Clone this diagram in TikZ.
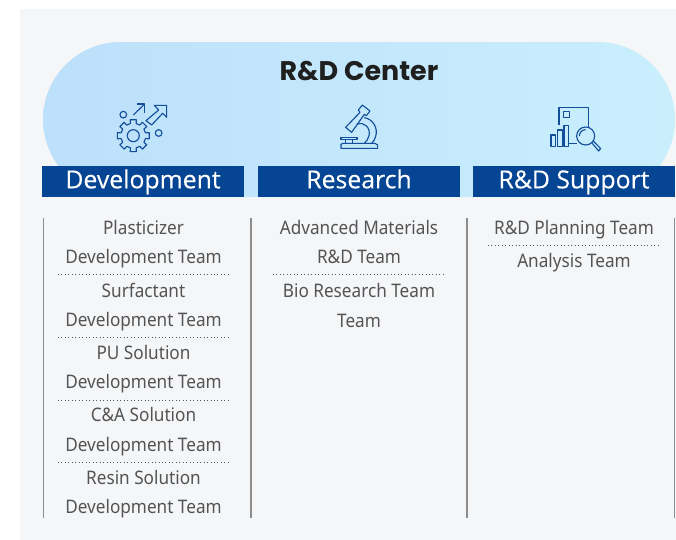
\documentclass[tikz,border=0pt]{standalone}
\usepackage{fontspec}
\setmainfont{Noto Sans}[FakeStretch=0.92]
\newfontfamily\headfont{Open Sans}[FakeBold=0.25]
\newfontfamily\titlefont{Poppins}
\definecolor{panelback}{RGB}{245,246,248}
\definecolor{headblue}{RGB}{5,69,147}
\definecolor{iconblue}{RGB}{18,78,154}
\definecolor{teamgray}{RGB}{84,84,84}
\definecolor{railgray}{RGB}{140,140,140}
\definecolor{pillleft}{RGB}{189,224,251}
\definecolor{pillmid}{RGB}{174,228,251}
\definecolor{pillright}{RGB}{201,239,253}
\tikzset{
  headbox/.style={fill=headblue,text=white,minimum width=151.5pt,minimum height=23.25pt,inner sep=0pt,text height=13.2pt,text depth=3pt,font=\headfont\fontsize{18.6}{20}\selectfont},
  teamlabel/.style={text=teamgray,inner sep=0pt,text height=12.5pt,text depth=1.5pt,font=\fontsize{14}{16}\selectfont},
  iconline/.style={draw=iconblue,line width=0.85pt,line join=round},
  railline/.style={draw=railgray,line width=0.8pt},
  sepline/.style={draw=teamgray,line width=0.6pt,dotted}
}
\begin{document}
\begin{tikzpicture}[x=0.75pt,y=0.75pt,yscale=-1,xscale=1]
\useasboundingbox (0,0) rectangle (676,540);

%Panel and pill
\fill [white] (0,0) rectangle (676,540);
\fill [panelback] (20,9) rectangle (676,540);
\shade [left color=pillleft,middle color=pillmid,right color=pillright,rounded corners=58.1pt] (43,42) rectangle (675,197);

% Text Node
\node (centerTitle) at (359,71) [font=\titlefont\bfseries\fontsize{20.2}{22}\selectfont,text=black!88,inner sep=0pt,text height=14pt,text depth=0pt] {R\&D Center};
\node (devHead) at (143,181.5) [headbox] {Development};
\node (resHead) at (359,181.5) [headbox] {Research};
\node (supHead) at (574,181.5) [headbox] {R\&D Support};

%Rails
\draw [railline] (43.5,218) -- (43.5,518);
\draw [railline] (251,218) -- (251,518);
\draw [railline] (467,218) -- (467,518);
\draw [railline] (674.5,218) -- (674.5,518);

%Dotted separators
\foreach \yy in {274,337,400,462} {
  \draw [sepline] (58,\yy) -- (231,\yy);
}
\draw [sepline] (273,274) -- (446,274);
\draw [sepline] (488,245) -- (661,245);

% Development teams
\node (plastA) at (143.5,227) [teamlabel] {Plasticizer};
\node (plastB) at (143.5,256) [teamlabel] {Development Team};
\node (surfA) at (143.5,290) [teamlabel] {Surfactant};
\node (surfB) at (143.5,319) [teamlabel] {Development Team};
\node (puA) at (143.5,352) [teamlabel] {PU Solution};
\node (puB) at (143.5,381) [teamlabel] {Development Team};
\node (caA) at (143.5,414) [teamlabel] {C\&A Solution};
\node (caB) at (143.5,444) [teamlabel] {Development Team};
\node (resinA) at (143.5,477) [teamlabel] {Resin Solution};
\node (resinB) at (143.5,506) [teamlabel] {Development Team};

% Research teams
\node (matA) at (359,227) [teamlabel] {Advanced Materials};
\node (matB) at (359,256) [teamlabel] {R\&D Team};
\node (bioA) at (359,290) [teamlabel] {Bio Research Team};
\node (bioB) at (359,320) [teamlabel] {Team};

% Support teams
\node (planT) at (574,227) [teamlabel] {R\&D Planning Team};
\node (anaT) at (574,260) [teamlabel] {Analysis Team};

%Gear icon
\begin{scope}[shift={(133.3,135.7)}]
\draw [iconline] \foreach \aa in {0,45,...,315} {
  (\aa-13:12.5) -- (\aa-11:16.2) -- (\aa+11:16.2) -- (\aa+13:12.5) arc (\aa+13:\aa+32:12.5)
} ;
\draw [iconline] (0,0) circle (6);
\end{scope}
\begin{scope}[shift={(20,0)},scale=0.3333]
\draw [iconline] (310,344) circle (10);
\draw [iconline] (416,399) circle (10);
\draw [iconline] (340,345) -- (374,312);
\draw [iconline] (350,312) -- (374,312) -- (374,338);
\draw [iconline] (440,316) -- (403,316) -- (416,330) -- (378,362) -- (395,375) -- (428,340) -- (440,352) -- cycle;
\end{scope}

%Microscope icon
\begin{scope}[shift={(325,95)},scale=0.3333]
\draw [iconline] (62,97) -- (105,52) -- (100,45) -- (112,30) -- (135,48) -- (124,62) -- (118,58) -- (80,112) -- cycle;
\draw [iconline] (96,88) .. controls (118,78) and (138,100) .. (132,122) .. controls (130,132) and (124,140) .. (118,145);
\draw [iconline] (118,68) .. controls (144,72) and (160,100) .. (152,124) .. controls (150,132) and (146,140) .. (140,145);
\draw [iconline] (48,160) -- (48,148) -- (54,145) -- (150,145) -- (158,150) -- (158,160) -- cycle;
\draw [iconline] (48,127) -- (96,127) -- (96,133) -- (48,133) -- cycle;
\draw [iconline] (62,133) -- (62,145);
\draw [iconline] (82,133) -- (82,145);
\end{scope}

%Chart icon
\begin{scope}[shift={(540,95)},scale=0.3333]
\draw [iconline] (57,90) -- (57,37) -- (145,37) -- (145,96);
\draw [iconline] (88,145) -- (112,145);
\draw [iconline] (70,50) rectangle (88,68);
\draw [iconline] (33,120) rectangle (47,155);
\draw [iconline] (52,105) rectangle (67,155);
\draw [iconline] (72,92) rectangle (86,155);
\draw [iconline] (137,123) circle (27);
\draw [iconline] (118,123) arc (180:270:19);
\draw [iconline] (155,143) -- (176,168) -- (182,161) -- (160,138);
\end{scope}

\end{tikzpicture}
\end{document}
